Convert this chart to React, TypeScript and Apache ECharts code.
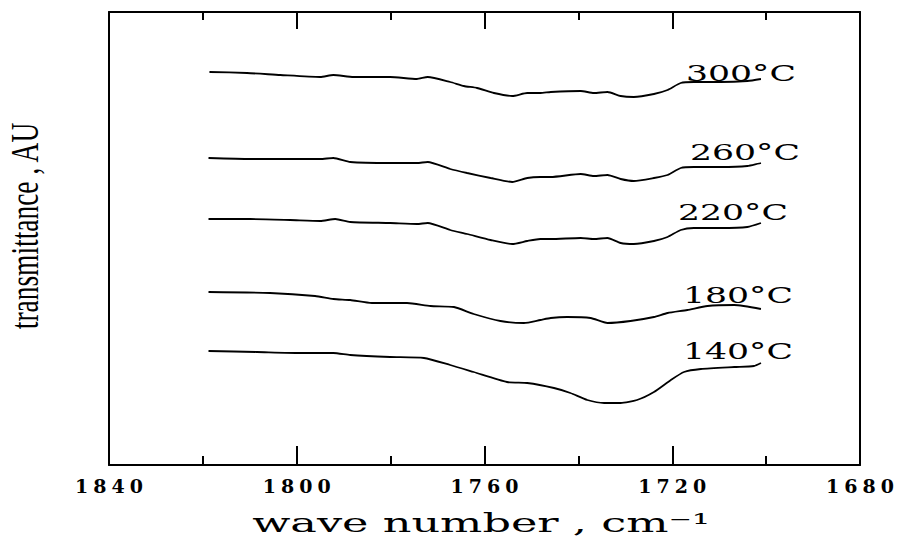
import React, { useEffect, useRef } from 'react';
import * as echarts from 'echarts';

// ---- data (wave number in cm-1, transmittance in arbitrary units) ----
const xTickValues = [1840, 1800, 1760, 1720, 1680];
const seriesNames = ['300°C', '260°C', '220°C', '180°C', '140°C'];

const wn300 = [1818.6, 1810.6, 1803.5, 1795.0, 1792.2, 1787.9, 1780.1, 1774.4, 1772.1, 1767.3, 1764.4, 1761.6, 1758.0, 1754.1, 1750.9, 1748.1, 1745.9, 1739.5, 1736.7, 1733.8, 1731.0, 1728.2, 1723.9, 1721.0, 1718.2, 1715.4, 1709.7, 1704.0, 1701.1];
const t300 = [39.3, 39.2, 39.0, 38.8, 39.0, 38.8, 38.8, 38.6, 38.8, 38.3, 37.9, 37.7, 37.2, 36.9, 37.2, 37.2, 37.3, 37.4, 37.2, 37.3, 36.9, 36.8, 37.1, 37.5, 38.2, 38.3, 38.3, 38.4, 38.6];

const wn260 = [1818.8, 1809.9, 1801.4, 1795.0, 1792.2, 1788.6, 1780.1, 1774.4, 1772.1, 1767.3, 1763.7, 1758.7, 1754.1, 1750.9, 1748.1, 1745.9, 1739.5, 1736.7, 1733.8, 1731.0, 1728.2, 1723.9, 1721.0, 1718.2, 1715.4, 1709.7, 1704.0, 1701.1];
const t260 = [30.7, 30.6, 30.6, 30.6, 30.7, 30.3, 30.2, 30.2, 30.3, 29.6, 29.2, 28.7, 28.3, 28.7, 28.8, 28.8, 29.1, 28.9, 29.0, 28.6, 28.4, 28.7, 29.0, 29.7, 29.8, 29.8, 29.9, 30.2];

const wn220 = [1818.8, 1809.9, 1801.4, 1795.0, 1791.8, 1788.6, 1780.1, 1774.4, 1772.1, 1767.3, 1763.7, 1758.7, 1754.1, 1750.9, 1748.1, 1745.9, 1739.5, 1736.7, 1733.8, 1731.0, 1728.2, 1723.9, 1721.0, 1718.2, 1715.4, 1709.7, 1704.0, 1701.1];
const t220 = [24.6, 24.6, 24.5, 24.4, 24.6, 24.3, 24.2, 24.1, 24.2, 23.5, 23.1, 22.5, 22.1, 22.4, 22.6, 22.6, 22.7, 22.6, 22.7, 22.2, 22.1, 22.4, 22.8, 23.5, 23.7, 23.7, 23.8, 24.2];

const wn180 = [1818.8, 1805.7, 1796.1, 1792.2, 1788.6, 1784.0, 1776.5, 1771.5, 1766.5, 1762.3, 1756.6, 1751.6, 1748.1, 1745.9, 1742.4, 1737.4, 1733.8, 1728.9, 1723.9, 1721.0, 1716.8, 1712.5, 1706.8, 1701.1];
const t180 = [17.3, 17.2, 16.9, 16.6, 16.5, 16.2, 16.2, 15.9, 15.8, 15.1, 14.4, 14.2, 14.5, 14.7, 14.8, 14.7, 14.2, 14.4, 14.8, 15.2, 15.5, 15.9, 16.0, 15.6];

const wn140 = [1818.8, 1808.5, 1799.3, 1792.2, 1788.6, 1780.1, 1772.9, 1767.3, 1762.3, 1755.2, 1750.9, 1745.2, 1741.7, 1738.1, 1734.5, 1731.0, 1727.5, 1723.9, 1720.3, 1717.5, 1713.9, 1706.8, 1702.6, 1701.1];
const t140 = [11.4, 11.3, 11.2, 11.2, 11.0, 10.8, 10.7, 10.0, 9.3, 8.3, 8.2, 7.7, 7.2, 6.5, 6.2, 6.2, 6.5, 7.3, 8.5, 9.3, 9.6, 9.8, 9.9, 10.2];

const xAxisTitle = 'wave number , cm⁻¹';
const yAxisTitle = 'transmittance , AU';

// ---- layout / style ----
const labelOffsets: [number, number][] = [[-20, -6], [-16, -11], [-28, -11], [-23, -14], [-23, -12]];
const css = `.irchart text[style*="19px"] { letter-spacing: 5px; }`;

export default function App() {
  const ref = useRef<HTMLDivElement>(null);

  useEffect(() => {
    const el = ref.current!;
    const chart = echarts.init(el, null, { renderer: 'svg' });
    const black = '#000';
    const curves: [number[], number[]][] = [
      [wn300, t300], [wn260, t260], [wn220, t220], [wn180, t180], [wn140, t140],
    ];

    const series = curves.map(([w, t], i) => ({
      type: 'line',
      name: seriesNames[i],
      data: w.map((x, j) => [x, t[j]]),
      showSymbol: false,
      symbol: 'none',
      smooth: 0.2,
      clip: false,
      silent: true,
      lineStyle: { color: black, width: 1.8 },
    }));

    const lineStyle = { color: black, width: 2 };
    const xMin = xTickValues[xTickValues.length - 1];
    const xMax = xTickValues[0];
    const interval = xTickValues[0] - xTickValues[1];

    chart.setOption({
      animation: false,
      backgroundColor: '#fff',
      grid: { left: 109, right: 41, top: 12, bottom: 79 },
      xAxis: [
        {
          type: 'value', min: xMin, max: xMax, interval, inverse: true, position: 'bottom',
          axisLine: { show: true, onZero: false, lineStyle },
          axisTick: { show: true, inside: true, length: 19, lineStyle },
          minorTick: { show: true, splitNumber: 2, length: 9, lineStyle },
          splitLine: { show: false },
          minorSplitLine: { show: false },
          axisLabel: {
            show: true, margin: 11, color: black, fontFamily: 'DejaVu Serif', fontSize: 19,
            fontWeight: 'bold', padding: [0, 0, 0, 5], formatter: (v: number) => String(v),
          },
        },
        {
          type: 'value', min: xMin, max: xMax, interval, inverse: true, position: 'top',
          axisLine: { show: true, onZero: false, lineStyle },
          axisTick: { show: true, inside: true, length: 17, lineStyle },
          minorTick: { show: true, splitNumber: 2, length: 8, lineStyle },
          splitLine: { show: false },
          axisLabel: { show: false },
        },
      ],
      yAxis: [
        {
          type: 'value', min: 0, max: 45.3, position: 'left',
          axisLine: { show: true, onZero: false, lineStyle },
          axisTick: { show: false }, axisLabel: { show: false }, splitLine: { show: false },
        },
        {
          type: 'value', min: 0, max: 45.3, position: 'right',
          axisLine: { show: true, onZero: false, lineStyle },
          axisTick: { show: false }, axisLabel: { show: false }, splitLine: { show: false },
        },
      ],
      series,
    });

    const ctx = document.createElement('canvas').getContext('2d')!;
    const natural = (text: string, font: string) => {
      ctx.font = font;
      return ctx.measureText(text).width;
    };

    const labelFont = '22px "DejaVu Serif"';
    const nameFont = '26px "DejaVu Serif"';
    const yFont = '40px "Liberation Serif"';

    const graphics: any[] = [];
    curves.forEach(([w, t], i) => {
      const n = w.length - 1;
      const p = chart.convertToPixel({ seriesIndex: i }, [w[n], t[n]]) as number[];
      const sx = 110 / natural(seriesNames[i], labelFont);
      graphics.push({
        type: 'text', id: 'lab' + i, silent: true,
        x: p[0] + labelOffsets[i][0], y: p[1] + labelOffsets[i][1], scaleX: sx,
        style: {
          text: seriesNames[i], font: labelFont, fill: black,
          align: 'center', verticalAlign: 'middle', textAlign: 'center', textVerticalAlign: 'middle',
        },
      });
    });
    graphics.push({
      type: 'text', id: 'xname', silent: true,
      x: 481, y: 523, scaleX: 458 / natural(xAxisTitle, nameFont),
      style: {
        text: xAxisTitle, font: nameFont, fill: black,
        align: 'center', verticalAlign: 'middle', textAlign: 'center', textVerticalAlign: 'middle',
      },
    });
    graphics.push({
      type: 'text', id: 'yname', silent: true,
      x: 24, y: 226, rotation: Math.PI / 2, scaleX: 208 / natural(yAxisTitle, yFont),
      style: {
        text: yAxisTitle, font: yFont, fill: black,
        align: 'center', verticalAlign: 'middle', textAlign: 'center', textVerticalAlign: 'middle',
      },
    });
    chart.setOption({ graphic: graphics });

    return () => chart.dispose();
  }, []);

  return (
    <>
      <style>{css}</style>
      <div
        ref={ref}
        className="irchart"
        style={{ position: 'fixed', left: 0, top: 0, width: 901, height: 544, background: '#fff' }}
      />
    </>
  );
}
